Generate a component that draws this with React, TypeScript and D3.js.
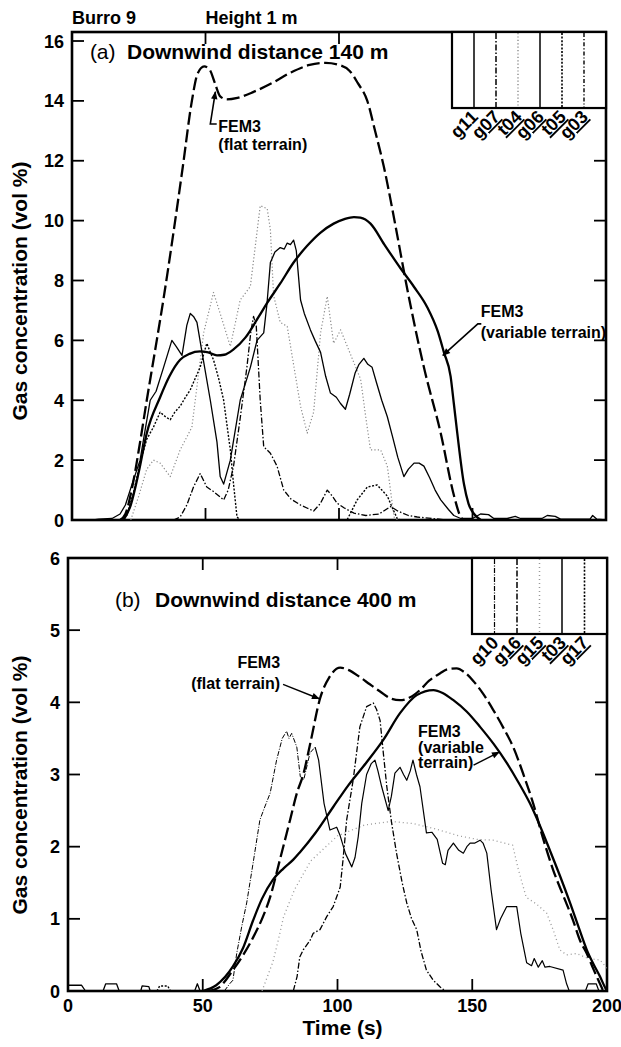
import React from "react";
import * as d3 from "d3";

type Pt = [number, number];

// ---------------- Panel (a): downwind distance 140 m ----------------
const fem3FlatA: Pt[] = [[18,0],[20,0.2],[23,1.3],[25.5,2.6],[28,4.0],[31,5.6],[34.3,7.4],[38,9.6],[41.5,11.8],[44.9,14.0],[47,14.9],[49.5,15.15],[51.5,15.05],[53.5,14.6],[55.5,14.15],[58,14.05],[62,14.1],[68,14.3],[75,14.6],[82,14.95],[89,15.2],[95,15.27],[100,15.2],[104,15.0],[107,14.6],[110.6,14.0],[113.5,13.0],[116.8,11.8],[121,9.9],[125.6,7.7],[131.8,5.1],[138.1,2.9],[143.1,0.8],[145.6,0.1],[147,0]];
const fem3VarA: Pt[] = [[19.3,0],[22,0.5],[25,1.6],[28,2.9],[33,4.1],[36.5,4.8],[40.5,5.35],[44,5.55],[48,5.63],[51,5.6],[54.3,5.5],[57,5.52],[60.5,5.7],[65,6.1],[70,6.8],[73.1,7.25],[78,7.9],[83,8.6],[88,9.15],[93.1,9.6],[98,9.9],[102,10.05],[105.6,10.12],[108,10.1],[111.8,9.9],[117,9.2],[123.1,8.4],[128,7.8],[133.1,7.1],[137,6.3],[139.3,5.6],[141.8,4.8],[143,3.9],[144.3,2.9],[146.8,1.2],[148.5,0.55],[150.6,0.2],[153.1,0]];
const g11A: Pt[] = [[0,0],[8,0],[10,0.03],[15,0.05],[18,0.2],[20,0.5],[22.5,1.2],[25.5,2.0],[27,2.8],[29.3,4.0],[31.5,4.3],[34.3,5.1],[37.4,6.0],[39,5.8],[41.2,5.5],[43,6.5],[44.3,6.9],[45.5,6.8],[46.8,6.6],[48.7,5.6],[51.8,4.0],[54.3,2.6],[55.5,1.45],[56.8,1.2],[59.3,2.0],[63,4.0],[66.8,5.1],[69.3,6.0],[71.8,6.25],[73,7.2],[74.3,8.6],[76,8.95],[78,9.1],[79.5,9.05],[80.6,9.25],[81.8,9.2],[83,9.35],[84,9.0],[85.6,7.35],[87,6.9],[89.3,6.35],[91,6.0],[93.1,5.6],[95,4.8],[96.8,4.24],[99,4.1],[100.5,3.9],[102.4,3.7],[104,4.2],[106,4.9],[107.5,5.2],[109.3,5.4],[110.8,5.2],[112.4,5.1],[114,4.6],[116,4.0],[118.1,3.45],[120,2.8],[122,2.1],[124.3,1.45],[126,1.7],[128.1,1.9],[130,1.9],[131.8,1.8],[134,1.4],[136,1.0],[138.1,0.67],[141,0.35],[143,0.15],[145.6,0.05],[150,0.05],[153,0.2],[156,0.18],[158,0.05],[163,0.05],[166,0.12],[168,0.05],[176,0.05],[178,0.15],[181,0.12],[183,0.03],[194,0.03],[195,0.15],[196.5,0.03],[200,0]];
const g07A: Pt[] = [[38,0],[40.5,0.1],[43,0.5],[45.5,1.1],[48,1.55],[50.5,1.1],[53,0.95],[55.5,0.77],[56.8,0.67],[58.5,1.0],[60.5,1.8],[63,3.4],[65.5,5.1],[67,6.3],[68,6.8],[69,6.5],[70.5,4.0],[71.8,2.45],[74.3,2.23],[76.8,1.8],[79.3,1.0],[82,0.7],[85.6,0.5],[88,0.4],[90.5,0.3],[93,0.55],[95.6,1.0],[97.5,0.8],[99.3,0.56],[102,0.4],[105.6,0.23],[110,0.15],[115,0.2],[119.3,0.45],[122,0.3],[126,0.15],[129.3,0.1],[135,0.05],[140,0]];
const t04A: Pt[] = [[22,0],[25,0.8],[28,1.7],[30.5,2.0],[33,1.9],[36.8,1.45],[40.5,2.34],[44.9,3.1],[46.8,4.46],[49.3,6.25],[53,7.6],[55.5,6.9],[59.3,5.8],[63,7.35],[66.8,7.8],[70.5,10.5],[73.1,10.4],[74.3,9.7],[75.5,7.5],[78,6.6],[80.6,6.47],[85.6,3.8],[88.1,2.9],[90.5,3.6],[93.1,6.25],[95.6,7.47],[98,5.9],[100.6,6.35],[103.1,5.8],[108.1,4.7],[110,3.45],[111.8,2.34],[115.6,2.34],[118.1,1.8],[120.6,0.1],[122,0]];
const t05A: Pt[] = [[18,0],[20.5,0.15],[23,0.9],[25.5,1.9],[28,2.7],[30.5,3.1],[33,3.6],[35,3.45],[36.8,3.35],[38.5,3.6],[40.5,3.8],[42.5,4.1],[44.3,4.35],[46,4.7],[48,5.1],[49.5,5.6],[50.5,5.9],[51.8,5.6],[53,5.35],[55,4.7],[56.8,4.0],[58,3.2],[59.3,2.34],[60.5,1.2],[61.8,0.1],[63,0],[103,0],[106.8,0.67],[110.6,1.1],[114.3,1.17],[118.1,0.8],[120,0.4],[121.8,0.05],[123,0]];

// ---------------- Panel (b): downwind distance 400 m ----------------
const fem3FlatB: Pt[] = [[52,0],[56,0.05],[61.2,0.29],[65,0.5],[68.8,0.75],[72,1.0],[75,1.3],[78.5,1.8],[82.4,2.37],[85,2.75],[87.3,3.0],[90,3.45],[93.5,4.05],[97,4.35],[101,4.48],[104,4.45],[108.3,4.35],[112,4.25],[115.8,4.15],[120,4.05],[123.2,4.03],[127,4.07],[130.6,4.17],[134,4.3],[138,4.4],[141,4.46],[144.2,4.47],[147,4.42],[150.3,4.3],[154,4.12],[157.7,3.9],[161.5,3.65],[165.2,3.38],[169,3.0],[172.6,2.6],[176,2.15],[180,1.68],[184,1.3],[187.4,0.98],[190,0.7],[192.5,0.52],[195,0.3],[197.4,0.1],[198.6,0]];
const fem3VarB: Pt[] = [[50,0],[55,0.08],[61.2,0.34],[65,0.6],[68.7,0.98],[72,1.28],[76,1.54],[80,1.7],[83.6,1.82],[86,1.92],[92,2.2],[98.4,2.55],[104,2.85],[110.8,3.17],[117,3.48],[123.2,3.85],[129.4,4.1],[135.6,4.17],[139,4.13],[143,4.03],[148,3.87],[152.9,3.66],[158,3.42],[162.8,3.16],[167,2.9],[171.4,2.6],[175,2.3],[178.8,1.95],[182.5,1.6],[186.3,1.22],[189.5,0.88],[192.5,0.57],[195,0.37],[197.4,0.2],[199,0.07],[200,0]];
const g10B: Pt[] = [[58,0],[60,0.1],[61.2,0.15],[62.6,0.52],[64.5,0.9],[66.3,1.22],[68.8,1.8],[71.2,2.37],[73,2.55],[75,2.74],[77.4,3.2],[79.5,3.5],[81.1,3.6],[82,3.5],[83,3.57],[84.9,3.38],[86.2,2.97],[87.5,2.93],[89.8,3.3],[91.7,3.38]];
const t03B: Pt[] = [[91.7,3.38],[93,3.2],[95,2.6],[97.2,2.23],[99.7,2.27],[101,2.15],[103,1.9],[105.3,1.72],[106.5,1.85],[107.7,2.14],[109,2.6],[110.8,3.0],[112.5,3.15],[113.9,3.2],[115,3.05],[116.4,2.83],[118.8,2.5],[120,2.7],[121.3,3.02],[123.2,3.1],[124.5,3.0],[125.7,2.92],[127,3.05],[128,3.2],[129.3,3.0],[130.6,2.83],[133,2.19],[135,2.2],[137,2.1],[139,1.77],[140,1.75],[141,1.95],[143,2.05],[145,1.95],[146.7,1.91],[148,2.0],[149.2,2.05],[151,2.05],[152.9,2.09],[154,2.05],[155.4,1.91],[157,1.4],[159,0.85],[160.5,1.0],[162.8,1.17],[166.5,1.17],[168,0.8],[170.2,0.39],[172,0.35],[173,0.45],[174.5,0.33],[176,0.42],[177,0.33],[178.8,0.34],[183.7,0.29],[185,0.1],[186,0],[192,0],[193,0.1],[196,0.1],[197,0]];
const t03BaseB: Pt[] = [[0,0.08],[5,0.08],[6.5,0],[13,0],[14,0.1],[18,0.1],[19,0],[27,0],[27.5,0.07],[30,0.06],[30.5,0],[47,0],[48,0.1],[49,0]];
const g16B: Pt[] = [[83.6,0],[85,0.2],[86,0.47],[87.3,0.57],[89.8,0.7],[91,0.8],[93.5,0.85],[96,1.03],[98.4,1.17],[101,1.44],[102,1.8],[103.4,2.37],[105.8,2.92],[108.3,3.66],[110.8,3.94],[113.3,3.99],[114.5,3.9],[115.8,3.75],[117,3.3],[118.3,2.83],[120,2.35],[121.9,1.91],[124,1.5],[125.7,1.22],[127.5,1.0],[129.4,0.85],[131,0.55],[133,0.29],[135.5,0.15],[138,0.06],[140,0]];
const g15B: Pt[] = [[72,0],[76,0.4],[78,0.7],[80,1.03],[84,1.4],[90,1.8],[100,2.15],[110,2.3],[120,2.35],[128,2.32],[136,2.25],[145,2.15],[152,2.1],[157.7,2.09],[162,2.05],[165,2.02],[167,1.7],[170,1.3],[174,1.2],[177.6,1.08],[180,0.85],[182.5,0.57],[185,0.5],[188.7,0.52],[193,0.45],[197.4,0.43],[199,0.36],[200,0.3]];
const g17B: Pt[] = [[33,0],[34,0.07],[37,0.07],[38,0]];

// ---------------- Axes and legend text ----------------
const yTicksA = [0, 2, 4, 6, 8, 10, 12, 14, 16];
const yTicksB = [0, 1, 2, 3, 4, 5, 6];
const xInnerTicks = [50, 100, 150];
const xTickLabels = [0, 50, 100, 150, 200];
const legendNamesA = ["g11", "g07", "t04", "g06", "t05", "g03"];
const legendNamesB = ["g10", "g16", "g15", "t03", "g17"];

// ---------------- Styles ----------------
type Sty = { w: number; dash?: string; color?: string };
const S_MODEL_DASH: Sty = { w: 2.3, dash: "13,4.5" };
const S_MODEL: Sty = { w: 2.3 };
const S_SOLID: Sty = { w: 1.3 };
const S_DASHDOT: Sty = { w: 1.3, dash: "6,2,1.5,2" };
const S_FINEDOT: Sty = { w: 1.2, dash: "1.2,2.2", color: "#8a8a8a" };
const S_DOT: Sty = { w: 1.4, dash: "2,1.6" };
const S_DASHDOT2: Sty = { w: 1.2, dash: "4,2,1.2,2" };
const S_THINDD: Sty = { w: 1.0, dash: "5,1.5,1,1.5" };
const S_GREYDOT: Sty = { w: 1.3, dash: "1,3", color: "#9a9a9a" };

const legendStylesA: Sty[] = [S_SOLID, S_DASHDOT, S_FINEDOT, S_SOLID, S_DOT, S_DASHDOT2];
const legendStylesB: Sty[] = [S_THINDD, S_DASHDOT, S_GREYDOT, S_SOLID, S_DOT];

const FONT = "'Liberation Sans', Arial, Helvetica, sans-serif";

function Curve({ data, x, y, sty, smooth }: { data: Pt[]; x: any; y: any; sty: Sty; smooth?: boolean }) {
  const gen = d3
    .line<Pt>()
    .x((d) => x(d[0]))
    .y((d) => y(d[1]))
    .curve(smooth ? d3.curveMonotoneX : d3.curveLinear);
  return (
    <path
      d={gen(data) || ""}
      fill="none"
      stroke={sty.color || "#000"}
      strokeWidth={sty.w}
      strokeDasharray={sty.dash}
      strokeLinejoin="round"
    />
  );
}

function Frame({ x, y, yTop, yTicks, rightTicks, showXLabels }: any) {
  const [x0, x1] = x.range();
  const y0 = y(0);
  const y1 = yTop;
  const tl = 12;
  return (
    <g>
      {yTicks.map((t: number) => (
        <g key={"yl" + t}>
          <line x1={x0} x2={x0 + tl} y1={y(t)} y2={y(t)} stroke="#000" strokeWidth={1.8} />
          <text x={x0 - 8} y={y(t) + 6.5} textAnchor="end" fontSize={18} fontWeight="bold" fontFamily={FONT}>
            {t}
          </text>
        </g>
      ))}
      {rightTicks.map((t: number) => (
        <line key={"yr" + t} x1={x1 - tl} x2={x1} y1={y(t)} y2={y(t)} stroke="#000" strokeWidth={1.8} />
      ))}
      {xInnerTicks.map((t) => (
        <g key={"xt" + t}>
          <line x1={x(t)} x2={x(t)} y1={y0} y2={y0 - tl} stroke="#000" strokeWidth={1.8} />
          <line x1={x(t)} x2={x(t)} y1={y1} y2={y1 + tl} stroke="#000" strokeWidth={1.8} />
        </g>
      ))}
      {showXLabels &&
        xTickLabels.map((t) => (
          <text key={"xl" + t} x={x(t)} y={y0 + 21} textAnchor="middle" fontSize={18} fontWeight="bold" fontFamily={FONT}>
            {t}
          </text>
        ))}
      <rect x={x0} y={y1} width={x1 - x0} height={y0 - y1} fill="none" stroke="#000" strokeWidth={2.6} />
    </g>
  );
}

function Legend({ right, top, width, height, names, styles }: any) {
  const left = right - width;
  const col = width / (names.length + 1);
  const bottom = top + height;
  return (
    <g>
      <rect x={left} y={top} width={width} height={height} fill="#fff" stroke="#000" strokeWidth={2.2} />
      {names.map((n: string, i: number) => {
        const lx = left + col * (i + 1);
        const st: Sty = styles[i];
        return (
          <g key={n}>
            <line x1={lx} x2={lx} y1={top + 1} y2={bottom - 1} stroke={st.color || "#000"} strokeWidth={st.w + 0.2} strokeDasharray={st.dash} />
            <text
              transform={`translate(${lx + 5},${bottom + 10}) rotate(-45)`}
              textAnchor="end"
              fontSize={18}
              fontWeight="bold"
              fontFamily={FONT}
              style={{ textDecoration: i > 0 ? "underline" : "none" }}
            >
              {n}
            </text>
          </g>
        );
      })}
    </g>
  );
}

export default function App() {
  const W = 621;
  const H = 1047;
  const xA = d3.scaleLinear().domain([0, 200]).range([72, 606]);
  const yA = d3.scaleLinear().domain([0, 16]).range([520, 41]);
  const xB = d3.scaleLinear().domain([0, 200]).range([68, 607]);
  const yB = d3.scaleLinear().domain([0, 6]).range([991, 558]);
  const topA = yA(16.3);
  const topB = yB(6);

  const arrowFlatA: Pt[] = [[54.2, 13.23], [51.8, 13.23], [53.7, 14.3]];
  const arrowVarA: Pt[] = [[153.3, 6.55], [152.0, 6.55], [138.9, 5.5]];
  const arrowFlatB: Pt[] = [[79.8, 4.25], [93.2, 4.05]];
  const arrowVarB: Pt[] = [[150.5, 3.13], [160.0, 3.31]];
  const poly = (pts: Pt[], x: any, y: any) => pts.map((p) => `${x(p[0])},${y(p[1])}`).join(" ");

  const txt = { fontFamily: FONT, fontWeight: "bold" as const };

  return (
    <svg width={W} height={H} style={{ position: "absolute", left: 0, top: 0, background: "#fff" }}>
      <defs>
        <marker id="ah" viewBox="0 0 10 10" refX="9" refY="5" markerWidth="10" markerHeight="8" markerUnits="userSpaceOnUse" orient="auto">
          <path d="M0,1 L10,5 L0,9 z" fill="#000" />
        </marker>
        <clipPath id="clipA">
          <rect x={72} y={topA} width={534} height={yA(0) - topA} />
        </clipPath>
        <clipPath id="clipB">
          <rect x={68} y={topB} width={539} height={yB(0) - topB} />
        </clipPath>
      </defs>
      <rect x={0} y={0} width={W} height={H} fill="#fff" />

      {/* header */}
      <text x={xA(0)} y={24} fontSize={18} {...txt}>Burro 9</text>
      <text x={xA(50)} y={24} fontSize={18} {...txt}>Height 1 m</text>

      {/* ---------------- panel (a) ---------------- */}
      <Frame x={xA} y={yA} yTop={topA} yTicks={yTicksA} rightTicks={yTicksA.slice(1)} showXLabels={false} />
      <g clipPath="url(#clipA)">
        <Curve data={t04A} x={xA} y={yA} sty={S_FINEDOT} />
        <Curve data={t05A} x={xA} y={yA} sty={S_DOT} />
        <Curve data={g07A} x={xA} y={yA} sty={S_DASHDOT} />
        <Curve data={g11A} x={xA} y={yA} sty={S_SOLID} />
        <Curve data={fem3VarA} x={xA} y={yA} sty={S_MODEL} smooth />
        <Curve data={fem3FlatA} x={xA} y={yA} sty={S_MODEL_DASH} smooth />
      </g>
      <text x={xA(6.7)} y={yA(15.4)} fontSize={21} fontFamily={FONT}>(a)</text>
      <text x={xA(20.6)} y={yA(15.4)} fontSize={21} {...txt}>Downwind distance 140 m</text>
      <text x={xA(54.8)} y={yA(12.96)} fontSize={16} {...txt}>FEM3</text>
      <text x={xA(54.8)} y={yA(12.36)} fontSize={16} {...txt}>(flat terrain)</text>
      <polyline points={poly(arrowFlatA, xA, yA)} fill="none" stroke="#000" strokeWidth={1.6} markerEnd="url(#ah)" />
      <text x={xA(153.1)} y={yA(6.78)} fontSize={16} {...txt}>FEM3</text>
      <text x={xA(153.1)} y={yA(6.08)} fontSize={16} {...txt}>(variable terrain)</text>
      <polyline points={poly(arrowVarA, xA, yA)} fill="none" stroke="#000" strokeWidth={1.6} markerEnd="url(#ah)" />
      <Legend right={606} top={topA} width={154} height={76} names={legendNamesA} styles={legendStylesA} />
      <text transform={`translate(27,${(topA + yA(0)) / 2 + 15}) rotate(-90)`} textAnchor="middle" fontSize={21} {...txt}>
        Gas concentration (vol %)
      </text>

      {/* ---------------- panel (b) ---------------- */}
      <Frame x={xB} y={yB} yTop={topB} yTicks={yTicksB} rightTicks={yTicksB.slice(1)} showXLabels={true} />
      <g clipPath="url(#clipB)">
        <Curve data={g15B} x={xB} y={yB} sty={S_GREYDOT} />
        <Curve data={g17B} x={xB} y={yB} sty={S_DOT} />
        <Curve data={t03BaseB} x={xB} y={yB} sty={S_SOLID} />
        <Curve data={g16B} x={xB} y={yB} sty={S_DASHDOT} />
        <Curve data={g10B} x={xB} y={yB} sty={S_THINDD} />
        <Curve data={t03B} x={xB} y={yB} sty={{ w: 1.2 }} />
        <Curve data={fem3VarB} x={xB} y={yB} sty={S_MODEL} smooth />
        <Curve data={fem3FlatB} x={xB} y={yB} sty={S_MODEL_DASH} smooth />
      </g>
      <text x={xB(17.4)} y={yB(5.32)} fontSize={21} fontFamily={FONT}>(b)</text>
      <text x={xB(32.3)} y={yB(5.32)} fontSize={21} {...txt}>Downwind distance 400 m</text>
      <text x={xB(78.7)} y={yB(4.48)} textAnchor="end" fontSize={16} {...txt}>FEM3</text>
      <text x={xB(78.7)} y={yB(4.18)} textAnchor="end" fontSize={16} {...txt}>(flat terrain)</text>
      <polyline points={poly(arrowFlatB, xB, yB)} fill="none" stroke="#000" strokeWidth={1.4} markerEnd="url(#ah)" />
      <text x={xB(129.9)} y={yB(3.52)} fontSize={16} {...txt}>FEM3</text>
      <text x={xB(129.9)} y={yB(3.3)} fontSize={16} {...txt}>(variable</text>
      <text x={xB(129.9)} y={yB(3.09)} fontSize={16} {...txt}>terrain)</text>
      <polyline points={poly(arrowVarB, xB, yB)} fill="none" stroke="#000" strokeWidth={1.4} markerEnd="url(#ah)" />
      <Legend right={607} top={topB} width={135} height={76} names={legendNamesB} styles={legendStylesB} />
      <text transform={`translate(27,785) rotate(-90)`} textAnchor="middle" fontSize={21} {...txt}>
        Gas concentration (vol %)
      </text>
      <text x={(xB(0) + xB(200)) / 2 + 5} y={1035} textAnchor="middle" fontSize={21} {...txt}>
        Time (s)
      </text>
    </svg>
  );
}
